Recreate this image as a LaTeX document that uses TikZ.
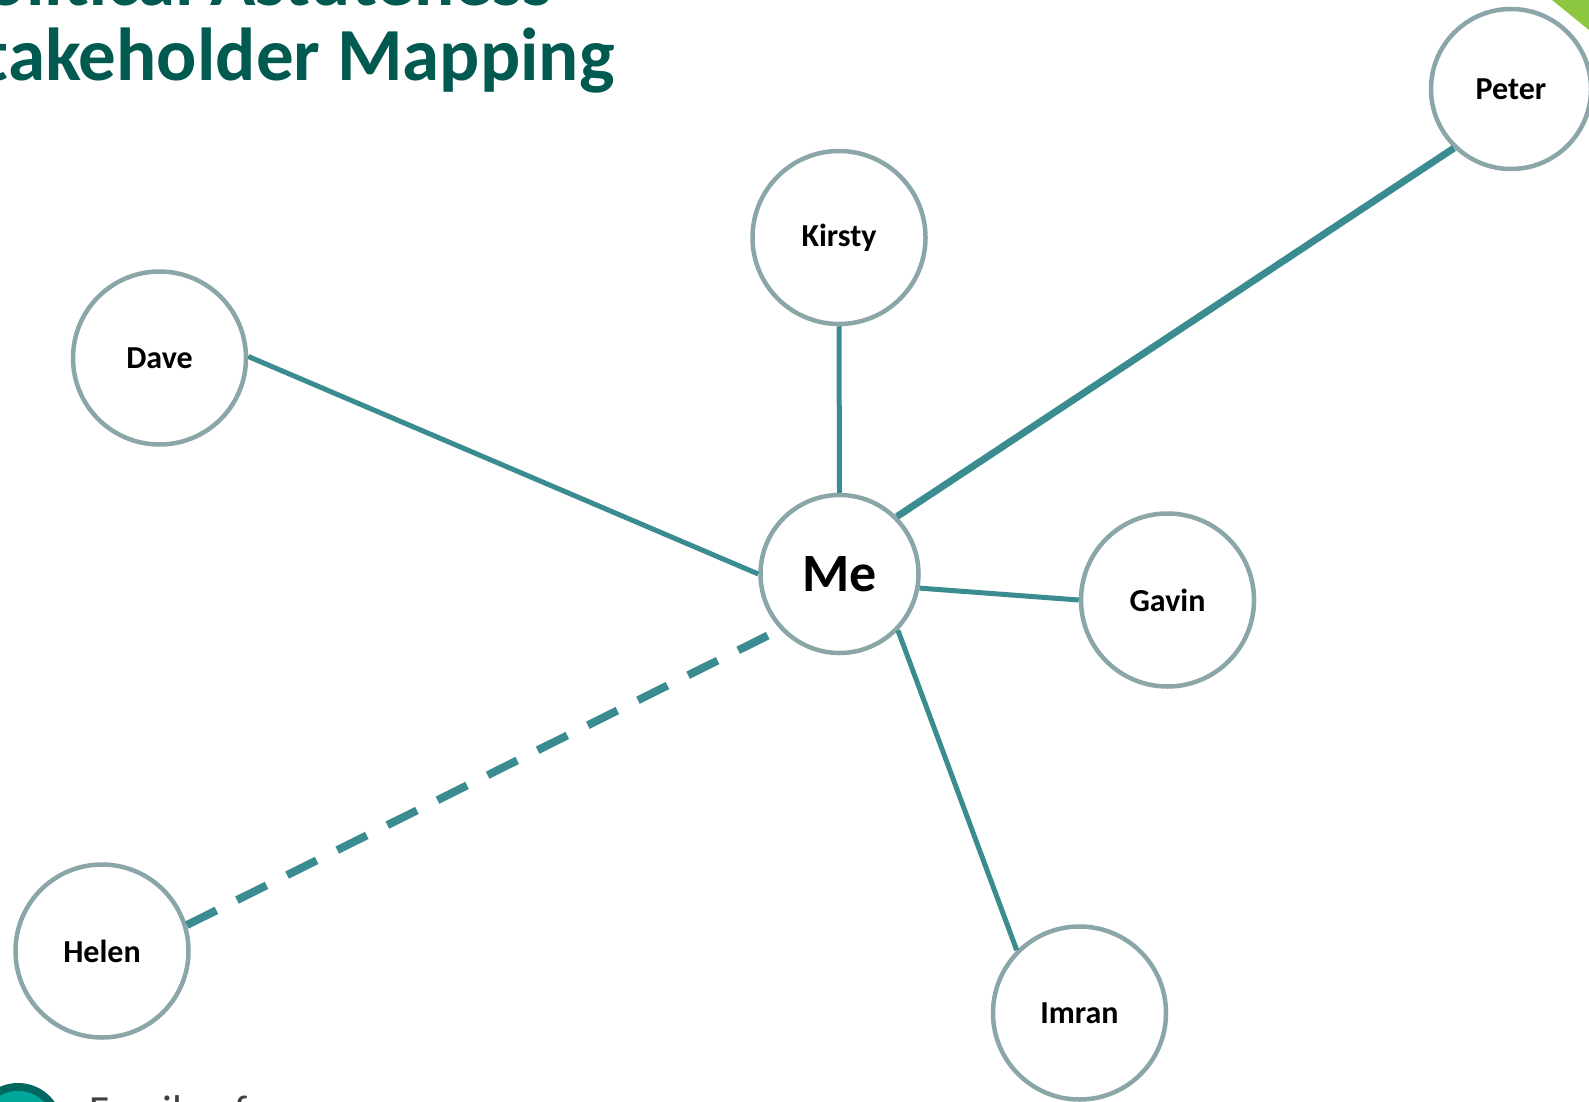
\documentclass[tikz,border=0pt]{standalone}
\usepackage{fontspec}
\setmainfont{Carlito}
\definecolor{linkteal}{RGB}{59,140,145}
\definecolor{ringgray}{RGB}{138,166,169}
\definecolor{titlegreen}{RGB}{0,90,80}
\definecolor{cornergreen}{RGB}{141,198,63}
\definecolor{logodark}{RGB}{0,104,94}
\definecolor{logolight}{RGB}{0,166,154}
\definecolor{footgray}{RGB}{64,64,64}
\begin{document}
\begin{tikzpicture}[x=1pt,y=-1pt,
  person/.style={circle, draw=ringgray, line width=4.5pt, fill=white,
    minimum size=173pt, inner sep=0pt, text=black,
    font=\fontsize{32}{38}\selectfont\bfseries},
  smallperson/.style={person, minimum size=158pt},
  link/.style={draw=linkteal, line width=5pt},
  strong/.style={link, line width=7pt},
  weak/.style={link, line width=8pt, dash pattern=on 33pt off 23pt},
  titletext/.style={anchor=base west, inner sep=0pt, text=titlegreen,
    font=\fontsize{75}{80}\selectfont\bfseries}
]
\useasboundingbox (0,0) rectangle (1589,1102);
\clip (0,0) rectangle (1589,1102);
\fill[white] (0,0) rectangle (1589,1102);

% corner accent and footer logo
\fill[cornergreen] (1552,0) -- (1589,0) -- (1589,30) -- cycle;
\fill[logodark] (18,1128) circle (45);
\fill[logolight] (18,1128) circle (37);
\node[anchor=base west, inner sep=0pt, text=footgray,
  font=\fontsize{43}{50}\selectfont] (footer) at (89,1125) {Family of};

% title
\node[titletext] (title1) at (-53,6) {Political Astuteness};
\node[titletext] (title2) at (-53,81) {Stakeholder Mapping};

% stakeholders
\node[smallperson, font=\fontsize{54}{64}\selectfont\bfseries] (me) at (839.5,574) {Me};
\node[smallperson, minimum size=160pt] (peter) at (1511,89) {Peter};
\node[person] (kirsty) at (839,237.5) {\raisebox{-2pt}{Kirsty}};
\node[person] (dave) at (159.5,358) {Dave};
\node[person] (gavin) at (1167.5,600) {Gavin};
\node[person] (helen) at (102,951) {Helen};
\node[person] (imran) at (1079.5,1013) {Imran};

% relationships
\draw[link] (dave.1) -- (me.180);
\draw[link] (kirsty.270) -- (me.90);
\draw[strong] (peter.226) -- (me.45);
\draw[link] (me.-10) -- (gavin.180);
\draw[link] (me.-44) -- (imran.135);
\draw[weak, shorten >=12pt] (helen.17) -- (me.223);
\end{tikzpicture}
\end{document}
